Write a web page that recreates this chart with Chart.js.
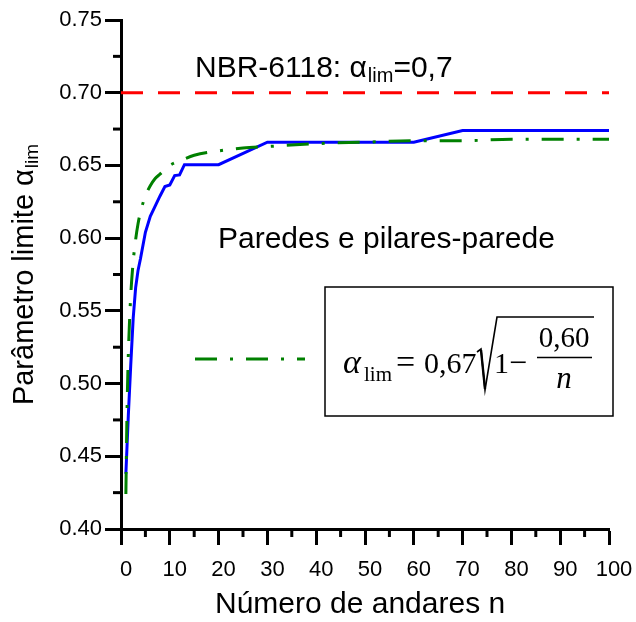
<!DOCTYPE html>
<html>
<head>
<meta charset="utf-8">
<script src="https://cdn.jsdelivr.net/npm/chart.js@4"></script>
<style>
    html, body { margin: 0; padding: 0; background: #fff; }
    canvas { display: block; }
</style>
</head>
<body>
<canvas id="grafico" width="636" height="622"></canvas>
<script>
// Curva obtida (paredes e pilares-parede)
const nCurva = [1, 1.5, 2, 2.5, 3, 3.5, 4, 5, 6, 7, 8, 9, 10, 11, 12, 13, 20, 30, 60, 70, 100];
const alphaCurva = [0.438, 0.478, 0.513, 0.545, 0.566, 0.578, 0.586, 0.604, 0.615, 0.622, 0.629, 0.6355, 0.6365, 0.643, 0.6435, 0.6505, 0.6505, 0.666, 0.666, 0.674, 0.674];

// Curva ajustada
const nAjuste = [1, 1.2, 1.4, 1.6, 1.8, 2, 2.5, 3, 3.5, 4, 5, 6, 7, 8, 10, 12, 15, 20, 25, 30, 40, 50, 60, 70, 80, 90, 100];
const alphaAjuste = [0.424, 0.474, 0.507, 0.530, 0.547, 0.561, 0.584, 0.599, 0.610, 0.618, 0.629, 0.636, 0.641, 0.644, 0.650, 0.653, 0.657, 0.660, 0.662, 0.663, 0.665, 0.666, 0.667, 0.667, 0.668, 0.668, 0.668];

// Limite da norma
const nLimite = [0, 100];
const alphaLimite = [0.7, 0.7];

// Eixos
const xMin = 0, xMax = 100, xPasso = 10;
const yMin = 0.40, yMax = 0.75, yPasso = 0.05;

const SANS = '"Liberation Sans", Arial, sans-serif';
const SERIF = '"Liberation Serif", "Times New Roman", serif';

function pontos(xs, ys) {
    return xs.map((x, i) => ({ x: x, y: ys[i] }));
}

const padraoTracoPonto = [22, 13, 3, 13];

// Ticks menores, textos, caixa da fórmula e legenda
const extras = {
    id: "extras",
    afterDraw(chart) {
        const ctx = chart.ctx;
        const xs = chart.scales.x;
        const ys = chart.scales.y;
        const area = chart.chartArea;

        ctx.save();
        ctx.strokeStyle = "#000";
        ctx.lineWidth = 3;
        for (let v = xMin + xPasso / 2; v < xMax; v += xPasso) {
            const px = xs.getPixelForValue(v);
            ctx.beginPath();
            ctx.moveTo(px, area.bottom);
            ctx.lineTo(px, area.bottom + 8);
            ctx.stroke();
        }
        for (let v = yMin + yPasso / 2; v < yMax; v += yPasso) {
            const py = ys.getPixelForValue(v);
            ctx.beginPath();
            ctx.moveTo(area.left, py);
            ctx.lineTo(area.left - 8, py);
            ctx.stroke();
        }

        ctx.fillStyle = "#000";
        ctx.textBaseline = "alphabetic";
        ctx.textAlign = "left";

        // NBR-6118: alpha_lim=0,7
        let x = 195;
        ctx.font = "30px " + SANS;
        ctx.fillText("NBR-6118: ", x, 77);
        x += ctx.measureText("NBR-6118: ").width;
        ctx.fillText("α", x, 77);
        x += ctx.measureText("α").width + 1;
        ctx.font = "20px " + SANS;
        ctx.fillText("lim", x, 82);
        x += ctx.measureText("lim").width;
        ctx.font = "30px " + SANS;
        ctx.fillText("=0,7", x, 77);

        ctx.fillText("Paredes e pilares-parede", 218, 248);

        // título do eixo x
        ctx.fillText("Número de andares n", 215, 613);

        // título do eixo y
        ctx.save();
        ctx.translate(33, (area.top + area.bottom) / 2);
        ctx.rotate(-Math.PI / 2);
        ctx.font = "29px " + SANS;
        const t1 = "Parâmetro limite ";
        const w1 = ctx.measureText(t1).width;
        const wa = ctx.measureText("α").width;
        ctx.font = "19px " + SANS;
        const wl = ctx.measureText("lim").width;
        let yx = -(w1 + wa + wl + 1) / 2;
        ctx.font = "29px " + SANS;
        ctx.fillText(t1, yx, 0);
        yx += w1;
        ctx.fillText("α", yx, 0);
        yx += wa + 1;
        ctx.font = "19px " + SANS;
        ctx.fillText("lim", yx, 5);
        ctx.restore();

        // caixa da fórmula
        ctx.lineWidth = 1.5;
        ctx.strokeRect(325, 287, 288, 129);

        ctx.font = "italic 34px " + SERIF;
        ctx.fillText("α", 343, 373);
        const wAlfa = ctx.measureText("α").width;
        ctx.font = "21px " + SERIF;
        ctx.fillText("lim", Math.max(343 + wAlfa + 1, 364), 381);
        ctx.font = "34px " + SERIF;
        ctx.fillText("=", 396, 373);
        ctx.font = "30px " + SERIF;
        ctx.fillText("0,67", 424, 373);
        ctx.fillText("1", 494, 373);
        ctx.font = "32px " + SERIF;
        ctx.fillText("\u2212", 509, 373);

        // radical
        ctx.lineWidth = 1.6;
        ctx.beginPath();
        ctx.moveTo(477, 352);
        ctx.lineTo(481, 349);
        ctx.lineTo(485, 390);
        ctx.lineTo(497, 317);
        ctx.lineTo(594, 317);
        ctx.stroke();
        ctx.lineWidth = 2.4;
        ctx.beginPath();
        ctx.moveTo(481, 350);
        ctx.lineTo(485, 389);
        ctx.stroke();

        // fração
        ctx.textAlign = "center";
        ctx.font = "29px " + SERIF;
        ctx.fillText("0,60", 564, 347);
        ctx.lineWidth = 1.6;
        ctx.beginPath();
        ctx.moveTo(537, 357.5);
        ctx.lineTo(592, 357.5);
        ctx.stroke();
        ctx.font = "italic 31px " + SERIF;
        ctx.fillText("n", 564, 388);

        // legenda da curva ajustada
        ctx.strokeStyle = "#008000";
        ctx.lineWidth = 3;
        ctx.setLineDash(padraoTracoPonto);
        ctx.beginPath();
        ctx.moveTo(195, 359);
        ctx.lineTo(305, 359);
        ctx.stroke();
        ctx.restore();
    }
};

new Chart(document.getElementById("grafico").getContext("2d"), {
    type: "scatter",
    data: {
        datasets: [
            {
                label: "NBR-6118",
                data: pontos(nLimite, alphaLimite),
                showLine: true,
                borderColor: "#ff0000",
                borderWidth: 3,
                borderDash: [22, 15],
                pointRadius: 0
            },
            {
                label: "Ajuste",
                data: pontos(nAjuste, alphaAjuste),
                showLine: true,
                borderColor: "#008000",
                borderWidth: 3,
                borderDash: padraoTracoPonto,
                cubicInterpolationMode: "monotone",
                pointRadius: 0
            },
            {
                label: "Paredes e pilares-parede",
                data: pontos(nCurva, alphaCurva),
                showLine: true,
                borderColor: "#0000ff",
                borderWidth: 3,
                pointRadius: 0
            }
        ]
    },
    options: {
        responsive: false,
        animation: false,
        devicePixelRatio: 1,
        layout: { padding: { top: 20, right: 27, left: 0, bottom: 0 } },
        plugins: {
            legend: { display: false },
            tooltip: { enabled: false }
        },
        scales: {
            x: {
                type: "linear",
                min: xMin,
                max: xMax,
                afterFit: (s) => { s.height = 93; s.paddingLeft = 0; s.paddingRight = 0; },
                border: { color: "#000", width: 3 },
                grid: { drawOnChartArea: false, tickLength: 16, tickWidth: 3, tickColor: "#000" },
                ticks: {
                    stepSize: xPasso,
                    color: "#000",
                    padding: 12,
                    labelOffset: 5,
                    maxRotation: 0,
                    font: { family: SANS, size: 22 }
                }
            },
            y: {
                type: "linear",
                min: yMin,
                max: yMax,
                afterFit: (s) => { s.width = 121; s.paddingTop = 0; s.paddingBottom = 0; },
                border: { color: "#000", width: 3 },
                grid: { drawOnChartArea: false, tickLength: 16, tickWidth: 3, tickColor: "#000" },
                ticks: {
                    stepSize: yPasso,
                    color: "#000",
                    padding: 3,
                    font: { family: SANS, size: 22 },
                    callback: (v) => Number(v).toFixed(2)
                }
            }
        }
    },
    plugins: [extras]
});
</script>
</body>
</html>
